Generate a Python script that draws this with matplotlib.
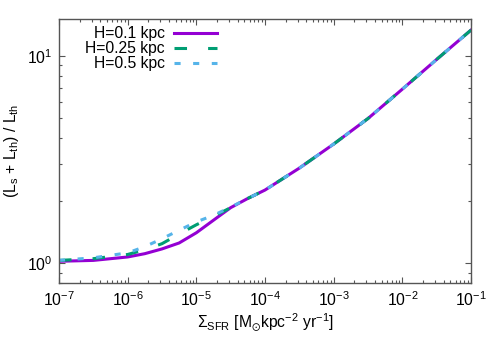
import numpy as np
import matplotlib
matplotlib.use("Agg")
import matplotlib.pyplot as plt
from matplotlib.ticker import LogLocator, NullFormatter, FixedLocator

plt.rcParams['font.family'] = ['Liberation Sans', 'DejaVu Sans']
plt.rcParams['mathtext.fontset'] = 'custom'
plt.rcParams['mathtext.rm'] = 'Liberation Sans'
plt.rcParams['mathtext.it'] = 'Liberation Sans'
plt.rcParams['mathtext.default'] = 'regular'

# star formation rate surface density [Msun kpc^-2 yr^-1]
sfr = [1e-7, 3.16e-7, 1e-6, 1.78e-6, 3.16e-6, 5.62e-6, 1e-5, 1.78e-5,
       3.16e-5, 5.62e-5, 1e-4, 3.16e-4, 1e-3, 3.16e-3, 1e-2, 3.16e-2, 1e-1]

# (Ls + Lth) / Lth for each scale height
ratio_h01 = [1.02, 1.03, 1.07, 1.11, 1.17, 1.25, 1.40, 1.61,
             1.85, 2.05, 2.25, 2.87, 3.75, 4.98, 6.90, 9.60, 13.3]
ratio_h025 = [1.03, 1.05, 1.10, 1.16, 1.24, 1.38, 1.53, 1.68,
              1.85, 2.05, 2.25, 2.87, 3.75, 4.98, 6.90, 9.60, 13.3]
ratio_h05 = [1.03, 1.06, 1.12, 1.20, 1.31, 1.44, 1.58, 1.70,
             1.86, 2.05, 2.25, 2.87, 3.75, 4.98, 6.90, 9.60, 13.3]

labels = ["H=0.1 kpc", "H=0.25 kpc", "H=0.5 kpc"]
xticks = [1e-7, 1e-6, 1e-5, 1e-4, 1e-3, 1e-2, 1e-1]
yticks = [1, 10]

fs = 11.3
fig = plt.figure(figsize=(5, 3.5), dpi=100)
ax = fig.add_axes([0.118, 0.191, 0.824, 0.754])

lw = 2.2
ax.plot(sfr, ratio_h01, color='#9400D3', lw=lw, label=labels[0])
ax.plot(sfr, ratio_h025, color='#009E73', lw=lw, dashes=(4.1, 6.9),
        dash_capstyle='butt', label=labels[1])
ax.plot(sfr, ratio_h05, color='#56B4E9', lw=lw, dashes=(2.0, 4.1),
        dash_capstyle='butt', label=labels[2])

ax.set_xscale('log')
ax.set_yscale('log')
ax.set_xlim(1e-7, 1e-1)
ax.set_ylim(0.8, 15)

ax.xaxis.set_major_locator(FixedLocator(xticks))
ax.yaxis.set_major_locator(FixedLocator(yticks))
ax.xaxis.set_minor_locator(LogLocator(base=10, subs=np.arange(2, 10), numticks=20))
ax.yaxis.set_minor_locator(LogLocator(base=10, subs=np.arange(2, 10), numticks=20))
ax.yaxis.set_minor_formatter(NullFormatter())
ax.xaxis.set_minor_formatter(NullFormatter())

gray = '#555555'
for s in ax.spines.values():
    s.set_color(gray)
    s.set_linewidth(1.0)
ax.tick_params(which='both', direction='in', top=True, right=True,
               color=gray, labelsize=fs, labelcolor='black')
ax.tick_params(which='major', length=4, width=0.8, pad=5)
ax.tick_params(which='minor', length=2.2, width=0.8)

ax.set_xlabel(r'$\Sigma_{SFR}$ [M$_{\odot}$kpc$^{-2}$ yr$^{-1}$]', fontsize=fs, labelpad=2)
ax.set_ylabel(r'(L$_{s}$ + L$_{th}$) / L$_{th}$', fontsize=fs, labelpad=4)

ax.legend(loc='upper right', bbox_to_anchor=(0.383, 0.973), frameon=False,
          markerfirst=False, fontsize=fs, handlelength=2.75, handletextpad=0.57,
          labelspacing=0.0, borderpad=0, borderaxespad=0)

fig.savefig('out.png', dpi=100)
